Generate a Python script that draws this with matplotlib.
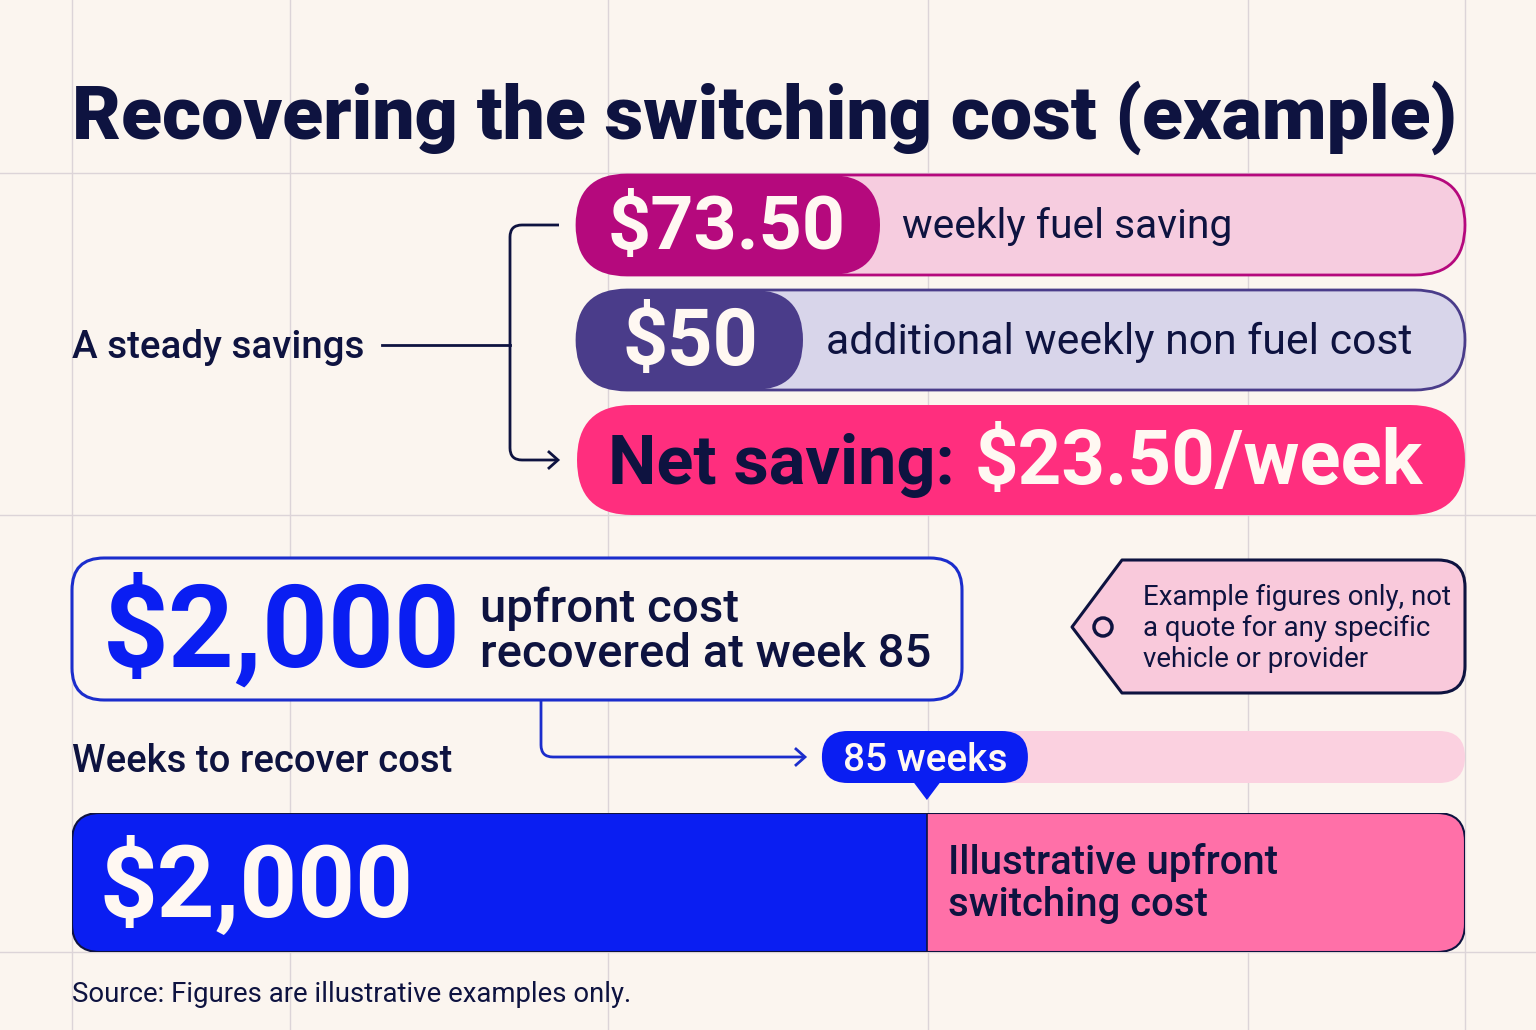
import matplotlib
matplotlib.use("Agg")
import matplotlib.pyplot as plt
from matplotlib.patches import FancyBboxPatch, PathPatch, Circle, Polygon
from matplotlib.path import Path

# ---------------------------------------------------------------------------
# Values
# ---------------------------------------------------------------------------
weekly_fuel_saving = 73.50
weekly_non_fuel_cost = 50
net_weekly_saving = 23.50
upfront_cost = 2000
weeks_to_recover = 85
weeks_axis_max = 138.5          # right end of the weeks bar

title = "Recovering the switching cost (example)"
savings_label = "A steady savings"
fuel_label = "weekly fuel saving"
cost_label = "additional weekly non fuel cost"
weeks_label = "Weeks to recover cost"
upfront_lines = ["upfront cost", f"recovered at week {weeks_to_recover}"]
note_lines = ["Example figures only, not", "a quote for any specific",
              "vehicle or provider"]
bar_label_lines = ["Illustrative upfront", "switching cost"]
source = "Source: Figures are illustrative examples only."

# palette
BG = "#FBF5EF"
GRID = "#DCD4D8"
NAVY = "#0E1340"
MAGENTA = "#B5097D"
PINK_LIGHT = "#F6CCDF"
PURPLE = "#4A3C8A"
LAVENDER = "#D8D5EA"
HOT_PINK = "#FF2E7E"
BLUE = "#0A1EF2"
BOX_BLUE = "#1B2DCC"
BAR_PINK = "#FF70A8"
TRACK_PINK = "#FBD1E0"
TAG_PINK = "#F9C9DB"
WHITE = "#FFF8F2"

plt.rcParams['font.family'] = ['Roboto', 'DejaVu Sans']

W, H = 1536, 1030
fig = plt.figure(figsize=(W / 100, H / 100), dpi=100)
fig.patch.set_facecolor(BG)
ax = fig.add_axes([0, 0, 1, 1])
ax.set_xlim(0, W)
ax.set_ylim(H, 0)
ax.axis('off')
renderer = fig.canvas.get_renderer()


def rbox(x0, y0, x1, y1, r, fc, ec='none', lw=0, z=2, target=None):
    target = target or ax
    p = FancyBboxPatch((x0, y0), x1 - x0, y1 - y0,
                       boxstyle=f"round,pad=0,rounding_size={r}",
                       fc=fc, ec=ec, lw=lw, zorder=z, transform=ax.transData)
    target.add_patch(p)
    return p


def fit_text(x, y, s, width, target=None, **kw):
    """Place text and scale its size so it spans `width` pixels."""
    target = target or ax
    t = target.text(x, y, s, fontsize=40, va='baseline', ha='left',
                    transform=ax.transData, **kw)
    w = t.get_window_extent(renderer).width
    t.set_fontsize(40 * width / w)
    return t


# background grid
for gx in [72, 290, 608, 928, 1248, 1465]:
    ax.axvline(gx, color=GRID, lw=1, zorder=0)
for gy in [173, 515, 952]:
    ax.axhline(gy, color=GRID, lw=1, zorder=0)

# title
fit_text(72, 139, title, 1383, color=NAVY, fontweight='black')

# ---------------------------------------------------------------------------
# Weekly savings pills
# ---------------------------------------------------------------------------
rbox(577, 175, 1465, 275, 50, PINK_LIGHT, MAGENTA, 2)
rbox(577, 175, 880, 275, 50, MAGENTA, z=3)
fit_text(608, 249, f"${weekly_fuel_saving:.2f}", 238, color=WHITE,
         fontweight='bold', zorder=4)
fit_text(902, 238, fuel_label, 330, color=NAVY, zorder=4)

rbox(577, 290, 1465, 390, 50, LAVENDER, PURPLE, 2)
rbox(577, 290, 803, 390, 50, PURPLE, z=3)
fit_text(622, 365, f"${weekly_non_fuel_cost}", 136, color=WHITE,
         fontweight='bold', zorder=4)
fit_text(826, 354, cost_label, 585, color=NAVY, zorder=4)

rbox(577, 405, 1465, 515, 55, HOT_PINK)
fit_text(608, 484, "Net saving:", 347, color=NAVY, fontweight='bold', zorder=4)
fit_text(975, 484, f"${net_weekly_saving:.2f}/week", 448, color=WHITE,
         fontweight='bold', zorder=4)

# bracket
fit_text(72, 358, savings_label, 292, color=NAVY, fontweight='medium')
ax.plot([382, 510], [345, 345], color=NAVY, lw=2, zorder=3)
bracket = Path([(559, 225), (522, 225), (510, 225), (510, 237),
                (510, 448), (510, 460), (522, 460), (556, 460)],
               [Path.MOVETO, Path.LINETO, Path.CURVE3, Path.CURVE3,
                Path.LINETO, Path.CURVE3, Path.CURVE3, Path.LINETO])
ax.add_patch(PathPatch(bracket, fc='none', ec=NAVY, lw=2, zorder=3))
ax.plot([549, 558, 549], [452, 460, 468], color=NAVY, lw=2, zorder=3,
        solid_joinstyle='miter')

# ---------------------------------------------------------------------------
# Upfront cost box and note tag
# ---------------------------------------------------------------------------
rbox(72, 558, 962, 700, 32, BG, BOX_BLUE, 2.2)
fit_text(103, 667, f"${upfront_cost:,}", 358, color=BLUE, fontweight='bold',
         zorder=4)
t = fit_text(480, 667, upfront_lines[1], 452, color=NAVY, fontweight='medium',
             zorder=4)
ax.text(480, 622, upfront_lines[0], fontsize=t.get_fontsize(), color=NAVY,
        fontweight='medium', va='baseline', zorder=4)

tag = Path([(1072, 627), (1122, 560), (1438, 560), (1465, 560), (1465, 587),
            (1465, 666), (1465, 693), (1438, 693), (1122, 693), (1072, 627)],
           [Path.MOVETO, Path.LINETO, Path.LINETO, Path.CURVE3, Path.CURVE3,
            Path.LINETO, Path.CURVE3, Path.CURVE3, Path.LINETO,
            Path.CLOSEPOLY])
ax.add_patch(PathPatch(tag, fc=TAG_PINK, ec=NAVY, lw=2.2, zorder=2,
                       joinstyle='round'))
ax.add_patch(Circle((1103, 627), 9, fc=TAG_PINK, ec=NAVY, lw=2.5, zorder=3))
t = fit_text(1143, 605, note_lines[0], 307, color=NAVY, zorder=4)
for i, line in enumerate(note_lines[1:], start=1):
    ax.text(1143, 605 + 31 * i, line, fontsize=t.get_fontsize(), color=NAVY,
            va='baseline', zorder=4)

# ---------------------------------------------------------------------------
# Weeks bar
# ---------------------------------------------------------------------------
bx0, bx1, by0, by1 = 72, 1465, 813, 952
axw = fig.add_axes([bx0 / W, 1 - by1 / H, (bx1 - bx0) / W, (by1 - by0) / H])
axw.set_xlim(0, weeks_axis_max)
axw.set_ylim(0, 1)
axw.axis('off')

clip = FancyBboxPatch((bx0, by0), bx1 - bx0, by1 - by0,
                      boxstyle="round,pad=0,rounding_size=28",
                      transform=ax.transData, fc='none', ec='none')
bars = axw.barh(0.5, [weeks_to_recover, weeks_axis_max - weeks_to_recover],
                left=[0, weeks_to_recover], height=1.0,
                color=[BLUE, BAR_PINK], zorder=1)
for b in bars:
    b.set_clip_path(clip)
axw.axvline(weeks_to_recover, color=NAVY, lw=1.2, zorder=2)
rbox(bx0, by0, bx1, by1, 28, 'none', NAVY, 1.5, z=3, target=axw)

fit_text(100, 917, f"${upfront_cost:,}", 314, target=axw, color=WHITE,
         fontweight='bold', zorder=4)
t = fit_text(948, 874, bar_label_lines[0], 330, target=axw, color=NAVY,
             fontweight='medium', zorder=4)
axw.text(948, 916, bar_label_lines[1], fontsize=t.get_fontsize(), color=NAVY,
         fontweight='medium', va='baseline', transform=ax.transData, zorder=4)

# marker pill above the bar, placed on the weeks scale
xc = ax.transData.inverted().transform(
    axw.transData.transform((weeks_to_recover, 0)))[0]
fit_text(72, 772, weeks_label, 381, color=NAVY, fontweight='medium')
rbox(xc - 105, 731, bx1, 783, 26, TRACK_PINK)
rbox(xc - 105, 731, xc + 101, 783, 26, BLUE, z=3)
ax.add_patch(Polygon([(xc - 15, 780), (xc + 15, 780), (xc, 800)],
                     closed=True, fc=BLUE, ec='none', zorder=3))
fit_text(xc - 84, 771, f"{weeks_to_recover} weeks", 165, color=WHITE,
         fontweight='medium', zorder=4)

# connector from the box to the marker
conn = Path([(541, 701), (541, 745), (541, 757), (553, 757), (804, 757)],
            [Path.MOVETO, Path.LINETO, Path.CURVE3, Path.CURVE3, Path.LINETO])
ax.add_patch(PathPatch(conn, fc='none', ec=BOX_BLUE, lw=2, zorder=3))
ax.plot([796, 805, 796], [749, 757, 765], color=BOX_BLUE, lw=2, zorder=3,
        solid_joinstyle='miter')

# source
fit_text(72, 1002, source, 557, color=NAVY)

fig.savefig("out.png", dpi=100, facecolor=BG)
